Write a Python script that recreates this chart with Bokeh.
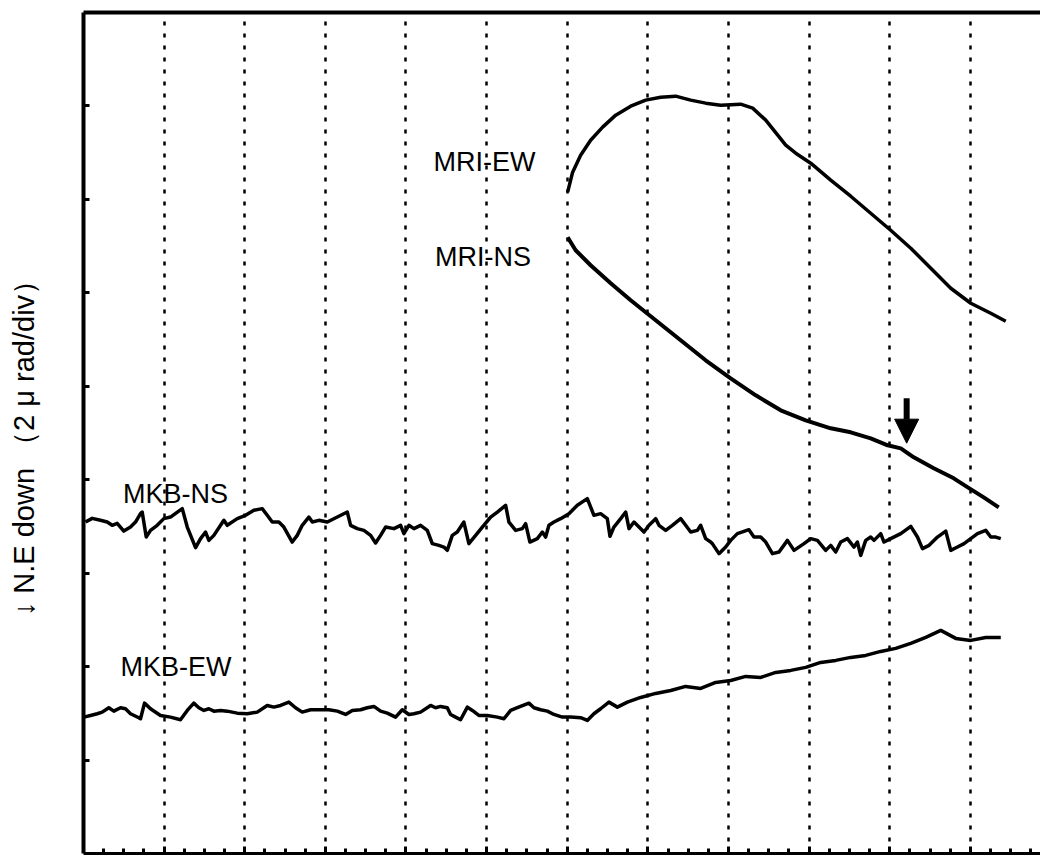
from bokeh.plotting import figure
from bokeh.models import (ColumnDataSource, Range1d, FixedTicker, LinearAxis, Arrow, NormalHead,
                          CustomJSTickFormatter)
from bokeh.core.properties import value
from bokeh.embed import file_html
from bokeh.resources import INLINE

# ---- data (x: minutes, 10 min/div ; y: tilt in micro-rad, 2 urad/div, "down" positive) ----
mkb_ns_t = [0.25, 1.08, 2.11, 2.94, 3.56, 4.18, 5.00, 5.83, 6.45, 7.07, 7.28, 7.78, 8.31, 9.14, 9.96,
            10.79, 12.25, 12.87, 13.90, 14.52, 15.14, 15.55, 16.17, 17.41, 17.83, 19.07, 20.10, 21.13,
            22.17, 22.79, 23.41, 24.23, 24.85, 25.89, 26.51, 27.13, 27.95, 28.38, 29.19, 30.24, 31.48,
            32.72, 33.13, 33.96, 34.78, 35.61, 36.23, 36.85, 37.47, 38.50, 39.33,
            39.74, 40.36, 40.98, 41.81, 42.64, 43.26, 44.08, 44.70, 45.12, 45.74, 46.36, 47.18, 47.80,
            48.64, 49.47, 50.50, 51.33, 52.36, 52.77, 53.60, 54.43, 54.84, 55.37, 56.29, 56.91, 57.32,
            57.73, 58.35, 59.18, 60.21, 61.25, 62.49, 63.31, 64.14, 64.97, 65.30, 65.79, 66.63, 67.25,
            67.66, 68.28, 68.90, 69.52, 70.14, 70.97, 71.38, 72.21, 73.04, 74.07, 74.69, 75.31, 76.14,
            76.55, 77.17, 77.79,
            78.00, 78.82, 79.65, 80.27, 81.10, 82.54, 83.16, 84.00, 84.62, 85.45, 86.27, 87.31, 88.13,
            89.37, 90.20, 91.03, 92.06, 92.68, 93.30, 93.92, 94.75, 95.57, 95.99, 96.40, 97.02, 97.64,
            98.05, 98.88, 99.29, 100.12, 101.37, 102.61, 103.44, 104.06, 104.88, 105.92, 106.95, 107.57,
            108.40, 109.22, 110.05, 110.88, 111.91, 112.53, 113.15, 113.77]
mkb_ns = [7.094, 7.173, 7.131, 7.094, 7.024, 7.066, 6.901, 6.987, 7.094, 7.274, 7.308, 6.773, 6.916,
          7.024, 7.167, 7.201, 7.381, 6.987, 6.546, 6.739, 6.880, 6.702, 6.809, 7.131, 7.024, 7.167,
          7.238, 7.345, 7.381, 7.238, 7.094, 7.094, 6.987, 6.666, 6.809, 7.024, 7.201, 7.094, 7.131,
          7.094, 7.201, 7.308, 7.024, 6.953, 6.916, 6.809, 6.645, 6.809, 6.987, 6.953, 7.024,
          6.846, 7.024, 6.953, 7.024, 6.916, 6.632, 6.595, 6.559, 6.488, 6.809, 6.880, 7.094, 6.632,
          6.809, 6.987, 7.201, 7.308, 7.452, 7.094, 6.916, 6.953, 7.060, 6.666, 6.739, 6.880, 6.773,
          7.024, 7.094, 7.167, 7.274, 7.452, 7.595, 7.238, 7.274, 7.167, 6.788, 6.987, 7.167, 7.308,
          6.953, 7.094, 6.987, 6.880, 7.024, 7.167, 7.024, 6.916, 7.024, 7.167, 7.024, 6.880, 6.916,
          7.024, 6.739, 6.666,
          6.632, 6.418, 6.559, 6.702, 6.846, 6.931, 6.773, 6.773, 6.666, 6.418, 6.452, 6.702, 6.488,
          6.632, 6.739, 6.702, 6.488, 6.595, 6.452, 6.666, 6.739, 6.559, 6.666, 6.381, 6.702, 6.773,
          6.702, 6.846, 6.666, 6.739, 6.846, 7.002, 6.773, 6.525, 6.595, 6.773, 6.901, 6.488,
          6.559, 6.632, 6.739, 6.846, 6.916, 6.773, 6.773, 6.739]

mkb_ew_t = [0.04, 0.87, 1.70, 2.32, 3.14, 3.76, 4.59, 5.21, 5.83, 6.86, 7.07, 7.57, 8.31, 9.55, 10.79,
            12.03, 12.87, 13.68, 14.31, 14.93, 15.55, 16.17, 17.00, 17.83, 19.07, 20.31, 21.55, 22.79,
            23.61, 24.44, 25.47, 26.30, 27.13, 28.16, 29.40, 30.43, 31.48, 32.51, 33.34, 34.37, 35.20,
            36.02, 36.85, 37.68, 38.71, 39.54, 40.36, 40.98, 41.81, 43.05, 43.67, 44.29, 45.12, 45.53,
            46.15, 46.77, 47.61, 48.23, 49.04, 50.09, 51.33, 52.15, 52.98, 53.81, 55.25, 55.87, 56.70,
            57.53, 58.35, 59.39, 60.42, 61.66, 62.49, 63.31, 64.14, 65.17, 66.22, 67.46,
            69.11, 70.97, 72.83, 74.69, 76.55, 78.41, 80.27, 82.13, 84.00, 85.86, 87.72, 89.58, 91.44,
            93.30, 95.16, 97.02, 98.88, 100.74, 102.61, 104.47, 106.33, 108.19, 110.05, 111.91, 113.77]
mkb_ew = [2.919, 2.955, 2.991, 3.026, 3.120, 3.047, 3.120, 3.098, 2.991, 2.906, 2.884, 3.218, 3.098,
          2.955, 2.919, 2.863, 3.062, 3.218, 3.120, 3.062, 3.098, 3.047, 3.062, 3.047, 3.004, 2.991,
          3.026, 3.169, 3.133, 3.169, 3.240, 3.120, 3.026, 3.077, 3.077, 3.077, 3.047, 2.976, 3.062,
          3.077, 3.120, 3.148, 3.047, 3.004, 2.919, 3.077, 2.976, 2.991, 3.026, 3.169, 3.120, 3.148,
          3.120, 2.976, 2.919, 2.863, 3.133, 3.062, 2.955, 2.955, 2.919, 2.884, 3.062, 3.120, 3.218,
          3.120, 3.077, 3.047, 2.976, 2.919, 2.919, 2.906, 2.848, 2.991, 3.098, 3.240, 3.133, 3.240,
          3.340, 3.426, 3.490, 3.576, 3.533, 3.662, 3.704, 3.790, 3.769, 3.876, 3.919, 3.983, 4.090,
          4.133, 4.197, 4.240, 4.325, 4.390, 4.497, 4.625, 4.775, 4.604, 4.561, 4.625, 4.625]

mri_ew_t = [60.05, 60.67, 61.66, 62.90, 64.39, 66.01, 67.87, 69.73, 71.59, 73.45, 75.31, 77.17, 79.03,
            81.51, 83.00, 84.62, 87.10, 88.34, 90.20, 92.68, 95.16, 97.64, 100.12, 102.61, 105.09,
            107.57, 110.05, 112.53, 114.39]
mri_ew = [14.154, 14.582, 14.946, 15.267, 15.546, 15.803, 15.996, 16.124, 16.188, 16.210, 16.124,
          16.060, 16.017, 16.038, 15.953, 15.696, 15.160, 14.989, 14.775, 14.411, 14.068, 13.704,
          13.340, 12.955, 12.527, 12.098, 11.777, 11.563, 11.392]

mri_ns_t = [60.05, 61.04, 62.90, 65.39, 67.87, 70.97, 74.07, 77.17, 80.27, 83.38, 86.48, 89.58, 92.68,
            95.16, 97.64, 99.75, 101.37, 102.98, 105.46, 107.94, 109.68, 111.66, 113.52]
mri_ns = [13.190, 12.912, 12.591, 12.205, 11.841, 11.413, 10.985, 10.557, 10.171, 9.807, 9.486,
          9.272, 9.101, 9.015, 8.886, 8.737, 8.672, 8.480, 8.244, 8.030, 7.837, 7.623, 7.409]

series_names = ["MRI-EW", "MRI-NS", "MKB-NS", "MKB-EW"]
arrow_time = 102.1          # marked onset (arrow)
axis_title = "↓  N.E down  （2 μ rad/div）"

# ---- layout / style ----
label_pos_x = [43.4, 43.6, 4.9, 4.6]
label_pos_y = [14.80, 12.77, 7.70, 3.99]

blank = CustomJSTickFormatter(code="return ''")

p = figure(width=1040, height=856, output_backend="svg", toolbar_location=None,
           x_range=Range1d(0, 118.7), y_range=Range1d(0, 18),
           min_border_left=83, min_border_top=12, min_border_bottom=3, min_border_right=0,
           x_axis_location="below", y_axis_location="left")
p.outline_line_color = None
p.background_fill_color = "white"
p.border_fill_color = "white"

# x axis (bottom) – ticks inside, no labels
xa = p.xaxis[0]
xa.ticker = FixedTicker(ticks=[10 * i for i in range(1, 12)],
                        minor_ticks=[2.5 * i for i in range(1, 48)])
xa.formatter = blank
xa.major_label_text_font_size = "1px"
xa.major_label_standoff = 0
xa.major_tick_in = 7
xa.major_tick_out = 0
xa.minor_tick_in = 5
xa.minor_tick_out = 0
xa.axis_line_width = 3
xa.major_tick_line_width = 3
xa.minor_tick_line_width = 3
xa.axis_line_color = "black"

# y axis (left)
ya = p.yaxis[0]
ya.ticker = FixedTicker(ticks=[2 * i for i in range(1, 9)], minor_ticks=[])
ya.formatter = blank
ya.major_label_text_font_size = "1px"
ya.major_label_standoff = 0
ya.major_tick_in = 6
ya.major_tick_out = 0
ya.minor_tick_in = 0
ya.minor_tick_out = 0
ya.axis_line_width = 4
ya.major_tick_line_width = 3
ya.axis_label = axis_title
ya.axis_label_text_font = "Liberation Sans"
ya.axis_label_text_font_style = "normal"
ya.axis_label_text_font_size = "29px"
ya.axis_label_text_color = "black"
ya.axis_label_standoff = 44

# top border line
top = LinearAxis(ticker=FixedTicker(ticks=[]), formatter=blank, major_label_text_font_size="1px",
                 major_label_standoff=0,
                 major_tick_out=0, major_tick_in=0, minor_tick_in=0, minor_tick_out=0,
                 axis_line_width=4)
p.add_layout(top, "above")

# grid: vertical dotted lines only
p.xgrid.grid_line_color = "black"
p.xgrid.grid_line_dash = "4 8"
p.xgrid.grid_line_width = 2.5
p.ygrid.grid_line_color = None

lw = 3.5
p.line(mkb_ns_t, mkb_ns, line_color="black", line_width=lw, line_join="round")
p.line(mkb_ew_t, mkb_ew, line_color="black", line_width=lw, line_join="round")
p.line(mri_ew_t, mri_ew, line_color="black", line_width=lw, line_join="round")
p.line(mri_ns_t, mri_ns, line_color="black", line_width=4, line_join="round")

src = ColumnDataSource(dict(x=label_pos_x, y=label_pos_y, t=series_names))
p.text(x="x", y="y", text="t", source=src, text_font=value("Liberation Sans"),
       text_font_size="27px", text_baseline="alphabetic", text_align="left", text_color="black")

arr_y_top = mri_ns[16] + 1.07
arr_y_tip = mri_ns[16] + 0.11
p.add_layout(Arrow(end=NormalHead(size=24, fill_color="black", line_color="black"),
                   x_start=arrow_time, y_start=arr_y_top, x_end=arrow_time, y_end=arr_y_tip,
                   line_width=6, line_color="black"))

open("out.html", "w").write(file_html(p, INLINE))
